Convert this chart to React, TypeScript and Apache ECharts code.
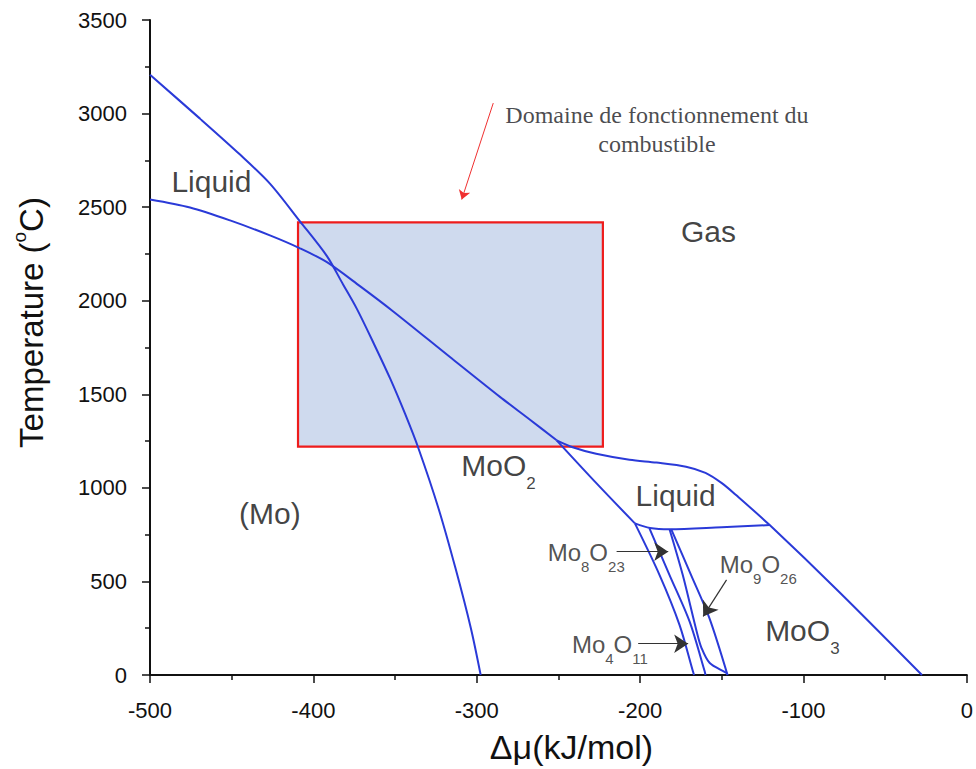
import React, { useEffect, useRef } from 'react';
import * as echarts from 'echarts';

// Phase boundaries, [Δμ (kJ/mol), T (°C)]
const gasLiquidMoLeft = [[-500, 3207], [-469.4, 2973], [-444.9, 2781], [-426.6, 2626], [-408.2, 2424], [-391.7, 2238], [-381.9, 2088], [-373.3, 1955], [-362.9, 1769], [-352.9, 1582], [-343.9, 1396], [-335.6, 1209], [-323.4, 890], [-313.0, 570], [-303.6, 250], [-297.6, 0]];
const liquidMoLine = [[-500, 2541], [-475.5, 2498], [-451, 2429], [-426.6, 2349], [-408.2, 2280], [-391.7, 2206], [-371.5, 2078], [-351.3, 1944], [-316.4, 1699], [-285.8, 1486], [-267.4, 1364], [-251.1, 1254]];
const gasLiquidRight = [[-251.1, 1254], [-241.3, 1217], [-226.9, 1182], [-206.5, 1150], [-190, 1135], [-171.9, 1113], [-160, 1080], [-150, 1025], [-141.1, 960], [-120.7, 801], [-78.3, 445], [-27.5, 0]];
const moo2LiquidLine = [[-251.1, 1254], [-227.1, 1028], [-203.2, 810]];
const eutecticLine = [[-203.2, 810], [-194, 786], [-182, 779], [-150, 790], [-120.7, 801]];
const moo2Mo4o11Line = [[-203.2, 810], [-188.1, 534], [-175.9, 268], [-167.7, 20], [-167, 0]];
const mo4o11Mo8o23Line = [[-194.3, 783], [-182, 534], [-169.7, 285], [-160.5, 20], [-160, 0]];
const mo8o23Mo9o26Line = [[-182, 779], [-173.9, 534], [-165.4, 233], [-162.4, 144], [-157.4, 64], [-147.2, 11], [-146.5, 0]];
const mo9o26Moo3Line = [[-181, 779], [-168.8, 534], [-157.6, 304], [-146.5, 0]];

const boundaries = [gasLiquidMoLeft, liquidMoLine, gasLiquidRight, moo2LiquidLine, eutecticLine, moo2Mo4o11Line, mo4o11Mo8o23Line, mo8o23Mo9o26Line, mo9o26Moo3Line];

// Operating domain rectangle
const rectX = [-409.4, -222.8];
const rectY = [1220, 2419];

// Region labels
const labelTexts = [
  '{b|Liquid}',
  '{b|Gas}',
  '{b|MoO}{bs|2}',
  '{b|(Mo)}',
  '{b|Liquid}',
  '{s|Mo}{ss|8}{s|O}{ss|23}',
  '{s|Mo}{ss|9}{s|O}{ss|26}',
  '{s|Mo}{ss|4}{s|O}{ss|11}',
  '{b|MoO}{bs|3}',
  '{d|Domaine de fonctionnement du}\n{d|combustible}',
];
const labelX = [-462.4, -158.2, -286.7, -426.6, -178.3, -233, -127.7, -218.5, -100.7, -189.7];
const labelY = [2637, 2371, 1119, 863, 960, 655, 591, 165, 237, 2914];

// Arrows [x1, y1, x2, y2]
const redArrow = [[-289.9, 3056, -309.2, 2541]];
const blackArrows = [[-214.4, 659, -182.8, 659], [-147.1, 508, -161.4, 313], [-201.2, 167, -170.6, 167]];

const SANS = '"Liberation Sans", Arial, sans-serif';
const SERIF = '"Liberation Serif", "Times New Roman", serif';
const BLUE = '#2a3ad8';
const INK = '#111111';

export default function App() {
  const ref = useRef<HTMLDivElement>(null);
  useEffect(() => {
    const chart = echarts.init(ref.current!, null, { renderer: 'svg' });
    const option: any = {
      animation: false,
      backgroundColor: '#ffffff',
      grid: { left: 150, right: 9, top: 20, bottom: 92 },
      xAxis: {
        type: 'value',
        min: -500,
        max: 0,
        interval: 100,
        name: 'Δμ(kJ/mol)',
        nameLocation: 'middle',
        nameGap: 55,
        nameTextStyle: { fontFamily: SANS, fontSize: 34, color: INK, padding: [0, 0, 0, 26] },
        axisLine: { onZero: false, lineStyle: { color: INK, width: 2 } },
        axisTick: { show: true, length: 8, lineStyle: { color: INK, width: 1.5 } },
        minorTick: { show: true, splitNumber: 2, length: 5, lineStyle: { color: INK, width: 1.5 } },
        splitLine: { show: false },
        axisLabel: { fontFamily: SANS, fontSize: 22, color: INK, margin: 24, formatter: (v: number) => String(v) },
      },
      yAxis: {
        type: 'value',
        min: 0,
        max: 3500,
        interval: 500,
        name: 'Temperature ({sup|o}C)',
        nameLocation: 'middle',
        nameGap: 98,
        nameTextStyle: {
          fontFamily: SANS,
          fontSize: 33,
          color: INK,
          lineHeight: 42,
          padding: [0, 0, 0, 50],
          rich: { sup: { fontFamily: SANS, fontSize: 19, lineHeight: 19, verticalAlign: 'top', color: INK } },
        },
        axisLine: { onZero: false, lineStyle: { color: INK, width: 2 } },
        axisTick: { show: true, length: 8, lineStyle: { color: INK, width: 1.5 } },
        minorTick: { show: true, splitNumber: 2, length: 5, lineStyle: { color: INK, width: 1.5 } },
        splitLine: { show: false },
        axisLabel: { fontFamily: SANS, fontSize: 22, color: INK, margin: 23, formatter: (v: number) => String(v) },
      },
      series: [
        {
          type: 'custom',
          z: 1,
          silent: true,
          data: [[rectX[0], rectY[0], rectX[1], rectY[1]]],
          renderItem: (params: any, api: any) => {
            const p1 = api.coord([api.value(0), api.value(3)]);
            const p2 = api.coord([api.value(2), api.value(1)]);
            return {
              type: 'rect',
              shape: { x: p1[0], y: p1[1], width: p2[0] - p1[0], height: p2[1] - p1[1] },
              style: { fill: '#cfdaee', stroke: '#ee1c1c', lineWidth: 2.2 },
            };
          },
        },
        ...boundaries.map((d) => ({
          type: 'line',
          z: 3,
          data: d,
          smooth: 0.3,
          showSymbol: false,
          symbol: 'none',
          silent: true,
          lineStyle: { color: BLUE, width: 2 },
        })),
        {
          type: 'lines',
          coordinateSystem: 'cartesian2d',
          z: 4,
          silent: true,
          symbol: ['none', 'arrow'],
          symbolSize: 9,
          lineStyle: { color: '#f03030', width: 1, opacity: 1 },
          data: redArrow.map((a) => ({ coords: [[a[0], a[1]], [a[2], a[3]]] })),
        },
        {
          type: 'lines',
          coordinateSystem: 'cartesian2d',
          z: 4,
          silent: true,
          symbol: ['none', 'arrow'],
          symbolSize: [8, 14],
          lineStyle: { color: '#333333', width: 1.2, opacity: 1 },
          itemStyle: { color: INK },
          data: blackArrows.map((a) => ({ coords: [[a[0], a[1]], [a[2], a[3]]] })),
        },
        {
          type: 'scatter',
          z: 5,
          silent: true,
          symbolSize: 0,
          data: labelTexts.map((t, i) => ({ value: [labelX[i], labelY[i]], label: { formatter: t } })),
          label: {
            show: true,
            position: 'inside',
            align: 'center',
            verticalAlign: 'middle',
            textBorderWidth: 0,
            rich: {
              b: { fontFamily: SANS, fontSize: 30, lineHeight: 52, color: INK, textBorderWidth: 0 },
              bs: { fontFamily: SANS, fontSize: 17, lineHeight: 17, verticalAlign: 'bottom', color: INK, textBorderWidth: 0 },
              s: { fontFamily: SANS, fontSize: 24, lineHeight: 43, color: '#262626', textBorderWidth: 0 },
              ss: { fontFamily: SANS, fontSize: 15, lineHeight: 15, verticalAlign: 'bottom', color: '#262626', textBorderWidth: 0 },
              d: { fontFamily: SERIF, fontSize: 24, lineHeight: 29, color: '#1a1a22', align: 'center', textBorderWidth: 0 },
            },
          },
        },
      ],
    };
    chart.setOption(option);
    return () => chart.dispose();
  }, []);
  return <div ref={ref} style={{ position: 'fixed', left: 0, top: 0, width: 976, height: 769 }} />;
}
